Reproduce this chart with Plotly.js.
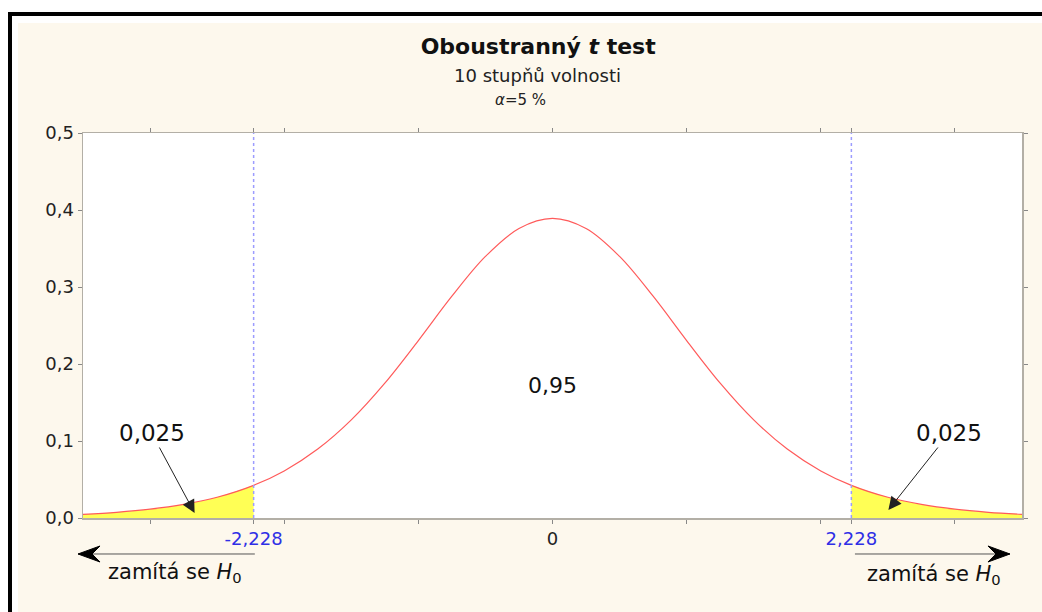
<!DOCTYPE html>
<html>
<head>
<meta charset="utf-8">
<script src="https://cdn.plot.ly/plotly-3.0.1.min.js"></script>
<style>
  html, body { margin: 0; padding: 0; background: #ffffff; width: 1042px; height: 612px; overflow: hidden; }
  #frame { position: absolute; left: 8px; top: 12px; width: 1034px; height: 600px;
           border-left: 4px solid #000; border-top: 4px solid #000; box-sizing: border-box; }
  #chart { position: absolute; left: 18px; top: 23px; width: 1024px; height: 589px; background: #fdf8ed; }
</style>
</head>
<body>
<div id="frame"></div>
<div id="chart"></div>
<script>
// t-distribution density, 10 degrees of freedom
const tValues = [-3.5, -3.25, -3, -2.75, -2.5, -2.228, -2, -1.75, -1.5, -1.25, -1, -0.75, -0.5, -0.25, 0,
                 0.25, 0.5, 0.75, 1, 1.25, 1.5, 1.75, 2, 2.228, 2.5, 2.75, 3, 3.25, 3.5];
const density = [0.0048, 0.0074, 0.0114, 0.0176, 0.0269, 0.0424, 0.0611, 0.0895, 0.1274, 0.1751, 0.2304, 0.2880, 0.3397, 0.3760, 0.3891,
                 0.3760, 0.3397, 0.2880, 0.2304, 0.1751, 0.1274, 0.0895, 0.0611, 0.0424, 0.0269, 0.0176, 0.0114, 0.0074, 0.0048];
const criticalValue = 2.228;
const centerProb = "0,95";
const tailProb = "0,025";
const xTickVals = [-2.228, 0, 2.228];
const xTickText = ["-2,228", "0", "2,228"];
const yTickVals = [0, 0.1, 0.2, 0.3, 0.4, 0.5];

const blue = "#2f2fe6";
const tickText = xTickText.map((t, i) =>
  Math.abs(xTickVals[i]) === criticalValue ? '<span style="color:' + blue + '">' + t + '</span>' : t);

const leftX = [], leftY = [], rightX = [], rightY = [];
tValues.forEach((x, i) => {
  if (x <= -criticalValue) { leftX.push(x); leftY.push(density[i]); }
  if (x >= criticalValue) { rightX.push(x); rightY.push(density[i]); }
});

const font = "DejaVu Sans, Arial, sans-serif";

const traces = [
  { x: leftX, y: leftY, type: "scatter", mode: "lines", fill: "tozeroy",
    fillcolor: "#ffff55", line: { width: 0, shape: "spline" }, hoverinfo: "skip" },
  { x: rightX, y: rightY, type: "scatter", mode: "lines", fill: "tozeroy",
    fillcolor: "#ffff55", line: { width: 0, shape: "spline" }, hoverinfo: "skip" },
  { x: tValues, y: density, type: "scatter", mode: "lines",
    line: { color: "#ff5a5a", width: 1.2, shape: "spline" } }
];

const axisLine = "#b3afa6";
const arrowY = -0.0935;

function arrowHead(xPaper, dir) {
  const d = -dir;
  return {
    type: "path", xref: "paper", yref: "paper",
    xsizemode: "pixel", ysizemode: "pixel", xanchor: xPaper, yanchor: arrowY,
    path: "M 0 0 L " + (22 * d) + " 8 L " + (14 * d) + " 0 L " + (22 * d) + " -8 Z",
    fillcolor: "#000", line: { color: "#000", width: 1 }, layer: "above"
  };
}

const layout = {
  width: 1024, height: 589,
  margin: { l: 65, r: 20, t: 110, b: 94 },
  paper_bgcolor: "#fdf8ed",
  plot_bgcolor: "#ffffff",
  separators: ",.",
  showlegend: false,
  font: { family: font, color: "#222" },
  title: {
    text: "<b>Oboustranný <i>t</i> test</b>",
    font: { family: font, size: 22, color: "#111" },
    x: 0.508, xanchor: "center", xref: "container",
    y: 0.961, yanchor: "middle", yref: "container"
  },
  xaxis: {
    range: [-3.5, 3.5], showgrid: false, zeroline: false,
    showline: true, linecolor: axisLine, linewidth: 1.5, mirror: "ticks",
    ticks: "outside", ticklen: 4, tickcolor: "#888", tickwidth: 1,
    tickmode: "array", tickvals: xTickVals, ticktext: tickText,
    minor: { ticks: "outside", dtick: 1, tick0: 0, ticklen: 4, tickcolor: "#888", tickwidth: 1, showgrid: false },
    tickfont: { family: font, size: 18, color: "#222" }
  },
  yaxis: {
    range: [0, 0.5], showgrid: false, zeroline: false,
    showline: true, linecolor: axisLine, linewidth: 1.5, mirror: "ticks",
    ticks: "outside", ticklen: 4, tickcolor: "#888", tickwidth: 1,
    tickmode: "array", tickvals: yTickVals, tickformat: ".1f",
    tickfont: { family: font, size: 18, color: "#222" }
  },
  shapes: [
    ...[-criticalValue, criticalValue].map(c => ({
      type: "line", xref: "x", yref: "paper", x0: c, x1: c, y0: 0, y1: 1,
      line: { color: "#9c9cff", width: 1.5, dash: "dot" }, layer: "above"
    })),
    { type: "line", xref: "paper", yref: "paper", x0: -0.0053, x1: 0.183, y0: arrowY, y1: arrowY,
      line: { color: "#555", width: 1 } },
    { type: "line", xref: "paper", yref: "paper", x0: 0.8221, x1: 0.9872, y0: arrowY, y1: arrowY,
      line: { color: "#555", width: 1 } },
    arrowHead(-0.0053, -1),
    arrowHead(0.9872, 1)
  ],
  annotations: [
    { text: "10 stupňů volnosti", xref: "paper", yref: "paper", x: 0.484, y: 1.1506,
      xanchor: "center", yanchor: "middle",
      showarrow: false, font: { family: font, size: 18, color: "#222" } },
    { text: "<i>α</i>=5 %", xref: "paper", yref: "paper", x: 0.4654, y: 1.0857,
      xanchor: "center", yanchor: "middle",
      showarrow: false, font: { family: font, size: 15, color: "#222" } },
    { text: centerProb, xref: "x", yref: "y", x: 0, y: 0.1727,
      xanchor: "center", yanchor: "middle",
      showarrow: false, font: { family: font, size: 22, color: "#111" } },
    { text: tailProb, xref: "x", yref: "y", x: -2.668, y: 0.0065, ax: -43, ay: -80,
      showarrow: true, arrowhead: 2, arrowsize: 2.6, arrowwidth: 1, arrowcolor: "#222",
      font: { family: font, size: 23, color: "#111" } },
    { text: tailProb, xref: "x", yref: "y", x: 2.504, y: 0.0104, ax: 61, ay: -77,
      showarrow: true, arrowhead: 2, arrowsize: 2.6, arrowwidth: 1, arrowcolor: "#222",
      font: { family: font, size: 23, color: "#111" } },
    { text: "zamítá se <i>H</i><sub>0</sub>", xref: "paper", yref: "paper", x: 0.0985, y: -0.1429,
      xanchor: "center", yanchor: "middle",
      showarrow: false, font: { family: font, size: 21, color: "#111" } },
    { text: "zamítá se <i>H</i><sub>0</sub>", xref: "paper", yref: "paper", x: 0.9058, y: -0.148,
      xanchor: "center", yanchor: "middle",
      showarrow: false, font: { family: font, size: 21, color: "#111" } }
  ]
};

Plotly.newPlot("chart", traces, layout, { displayModeBar: false, staticPlot: true });
</script>
</body>
</html>
